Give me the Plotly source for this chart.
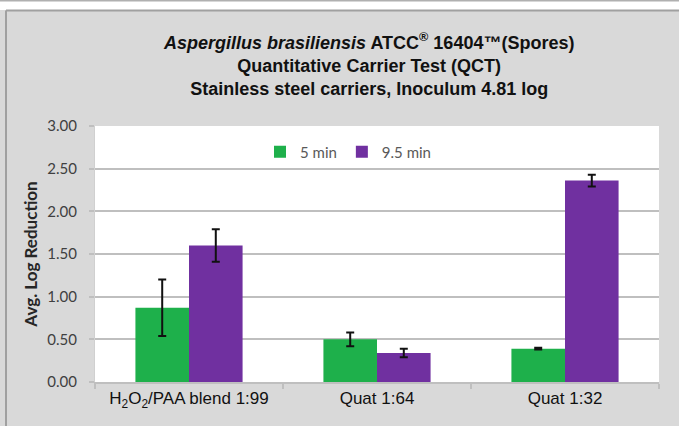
import plotly.graph_objects as go

categories = ["H<sub>2</sub>O<sub>2</sub>/PAA blend 1:99", "Quat 1:64", "Quat 1:32"]
series_names = ["5 min", "9.5 min"]
values_5min = [0.87, 0.50, 0.39]
errors_5min = [0.33, 0.08, 0.01]
values_95min = [1.60, 0.34, 2.36]
errors_95min = [0.19, 0.05, 0.07]
y_ticks = [0, 0.5, 1.0, 1.5, 2.0, 2.5, 3.0]

GREEN = "#1eb04b"
PURPLE = "#7030a0"
PANEL = "#d9d9d9"
GRID = "#bfbfbf"

fig = go.Figure()
fig.add_trace(go.Bar(
    name=series_names[0], x=categories, y=values_5min, marker_color=GREEN,
    marker_line_width=0,
    error_y=dict(type="data", array=errors_5min, color="#111111", thickness=2, width=4),
))
fig.add_trace(go.Bar(
    name=series_names[1], x=categories, y=values_95min, marker_color=PURPLE,
    marker_line_width=0,
    error_y=dict(type="data", array=errors_95min, color="#111111", thickness=2, width=4),
))

# plot area: x 95..659, y 126..382
L, R, T, B = 95, 659, 126, 382
W, H = 679, 426
def px(x):
    return (x - L) / (R - L)
def py(y):
    return (B - y) / (B - T)

title_text = ("<b><i>Aspergillus brasiliensis</i> ATCC<sup>®</sup> 16404™(Spores)</b><br>"
              "<b>Quantitative Carrier Test (QCT)</b><br>"
              "<b>Stainless steel carriers, Inoculum 4.81 log</b>")

fig.update_layout(
    width=W, height=H,
    margin=dict(l=L, r=W - R, t=T, b=H - B),
    paper_bgcolor=PANEL,
    plot_bgcolor="white",
    barmode="group",
    bargap=0.43,
    bargroupgap=0,
    showlegend=True,
    legend=dict(orientation="h", x=px(260), y=py(152), xanchor="left", yanchor="middle",
                bgcolor="rgba(0,0,0,0)", font=dict(family="Lato, Open Sans, sans-serif", size=15, color="#595959"),
                itemwidth=30, tracegroupgap=0),
    font=dict(family="Liberation Sans, Arial, sans-serif", color="#000000"),
    shapes=[
        dict(type="rect", xref="paper", yref="paper", x0=px(-5), x1=px(W + 5), y0=py(10), y1=py(-5),
             fillcolor="white", line_width=0, layer="above"),
        dict(type="line", xref="paper", yref="paper", x0=px(-5), x1=px(W + 5), y0=py(0.5), y1=py(0.5),
             line=dict(color="#b0b0b0", width=2)),
        dict(type="line", xref="paper", yref="paper", x0=px(6), x1=px(W + 5), y0=py(10.5), y1=py(10.5),
             line=dict(color="#a0a0a0", width=2)),
        dict(type="line", xref="paper", yref="paper", x0=px(6), x1=px(6), y0=py(10.5), y1=py(H + 5),
             line=dict(color="#a0a0a0", width=2)),
    ],
    annotations=[
        dict(text=title_text, xref="paper", yref="paper", x=px(368), y=py(28), xanchor="center", yanchor="top",
             showarrow=False, align="center",
             font=dict(family="Liberation Sans, Arial, sans-serif", size=18, color="#111111"),
             ),
    ],
)

fig.update_yaxes(
    range=[0, 3], tickvals=y_ticks, tickformat=".2f",
    showgrid=True, gridcolor=GRID, gridwidth=1.5,
    ticks="outside", ticklen=5, tickcolor=GRID, tickwidth=1.5,
    ticklabelstandoff=9,
    showline=True, linecolor="#d0d0d0", linewidth=1,
    tickfont=dict(family="Lato, Open Sans, sans-serif", size=15, color="#404040"),
    title=dict(text="<b>Avg. Log Reduction</b>", standoff=5,
               font=dict(family="Lato, Open Sans, sans-serif", size=17, color="#262626")),
    zeroline=False,
)
fig.update_xaxes(
    showline=True, linecolor=GRID, linewidth=1.5,
    ticks="outside", ticklen=5, tickcolor=GRID, tickwidth=1.5, tickson="boundaries",
    tickfont=dict(family="Liberation Sans, Arial, sans-serif", size=17, color="#111111"),
)

fig.write_html("out.html", config={"displayModeBar": False},
               post_script="document.body.style.margin='0';document.body.style.overflow='hidden';")
